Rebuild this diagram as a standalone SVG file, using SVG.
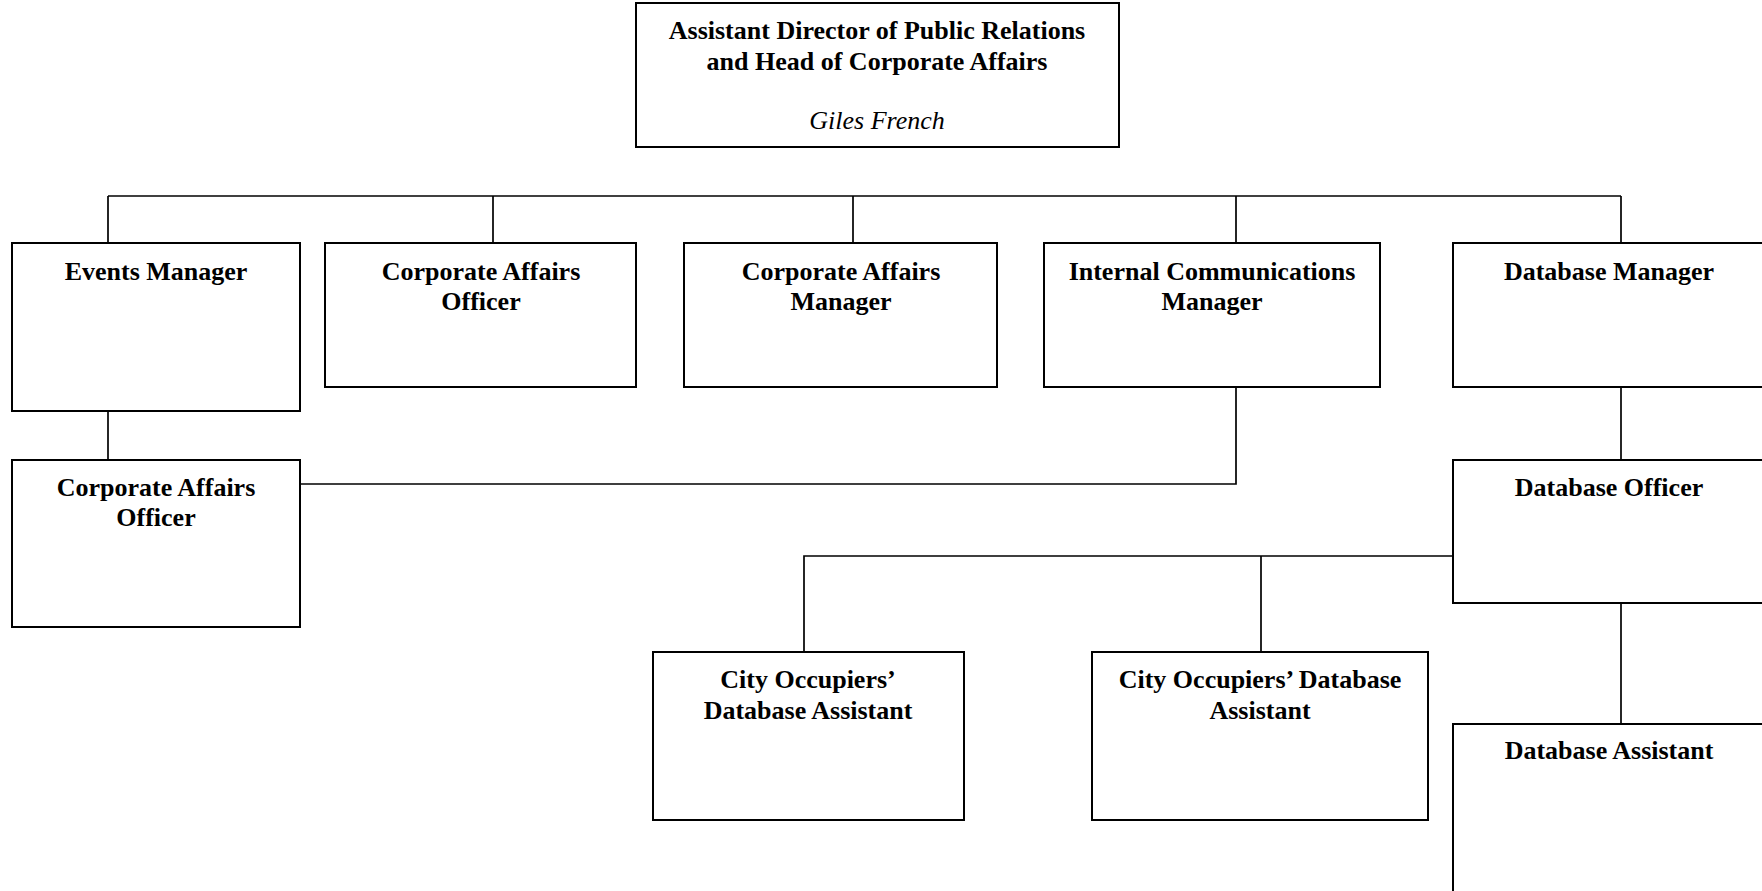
<svg xmlns="http://www.w3.org/2000/svg" width="1762" height="891" viewBox="0 0 1762 891">
<style>
.box{fill:#fff;stroke:#000;stroke-width:2}
.conn{fill:none;stroke:#000;stroke-width:1.7}
text{font-family:"Liberation Serif","Times New Roman",serif;font-size:26px;font-weight:bold;text-anchor:middle;fill:#000}
.it{font-weight:normal;font-style:italic}
</style>
<rect width="1762" height="891" fill="#fff"/>
<g id="connectors">
<path class="conn" d="M108,196 H1621"/>
<path class="conn" d="M108,196 V243 M493,196 V243 M853,196 V243 M1236,196 V243 M1621,196 V243"/>
<path class="conn" d="M108,411 V460"/>
<path class="conn" d="M300,484 H1236 V387"/>
<path class="conn" d="M1621,387 V460"/>
<path class="conn" d="M1453,556 H804 V652 M1261,556 V652"/>
<path class="conn" d="M1621,603 V724"/>
</g>
<g id="director">
<rect class="box" x="636" y="3" width="483" height="144"/>
<text x="877" y="39">Assistant Director of Public Relations</text>
<text x="877" y="70">and Head of Corporate Affairs</text>
<text class="it" x="877" y="129">Giles French</text>
</g>
<g id="events-manager">
<rect class="box" x="12" y="243" width="288" height="168"/>
<text x="156" y="280">Events Manager</text>
</g>
<g id="corp-affairs-officer-1">
<rect class="box" x="325" y="243" width="311" height="144"/>
<text x="481" y="280">Corporate Affairs</text>
<text x="481" y="310">Officer</text>
</g>
<g id="corp-affairs-manager">
<rect class="box" x="684" y="243" width="313" height="144"/>
<text x="841" y="280">Corporate Affairs</text>
<text x="841" y="310">Manager</text>
</g>
<g id="internal-comms-manager">
<rect class="box" x="1044" y="243" width="336" height="144"/>
<text x="1212" y="280">Internal Communications</text>
<text x="1212" y="310">Manager</text>
</g>
<g id="database-manager">
<rect class="box" x="1453" y="243" width="312" height="144"/>
<text x="1609" y="280">Database Manager</text>
</g>
<g id="corp-affairs-officer-2">
<rect class="box" x="12" y="460" width="288" height="167"/>
<text x="156" y="496">Corporate Affairs</text>
<text x="156" y="526">Officer</text>
</g>
<g id="database-officer">
<rect class="box" x="1453" y="460" width="312" height="143"/>
<text x="1609" y="496">Database Officer</text>
</g>
<g id="city-occupiers-assistant-1">
<rect class="box" x="653" y="652" width="311" height="168"/>
<text x="808" y="688">City Occupiers’</text>
<text x="808" y="719">Database Assistant</text>
</g>
<g id="city-occupiers-assistant-2">
<rect class="box" x="1092" y="652" width="336" height="168"/>
<text x="1260" y="688">City Occupiers’ Database</text>
<text x="1260" y="719">Assistant</text>
</g>
<g id="database-assistant">
<rect class="box" x="1453" y="724" width="312" height="180"/>
<text x="1609" y="759">Database Assistant</text>
</g>
</svg>
